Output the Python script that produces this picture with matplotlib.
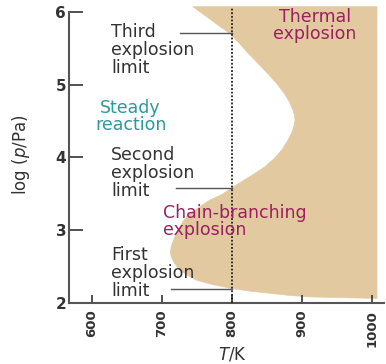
import matplotlib
matplotlib.use("Agg")
import matplotlib.pyplot as plt
from matplotlib.patches import Polygon

# Boundary of the explosion region (T/K, log p/Pa), read top to bottom
boundary_T = [744, 757, 771, 784, 797, 810, 823, 837, 851, 864, 875, 882, 887, 889, 890,
              888, 885, 879, 871, 860, 847, 833, 818, 808, 799, 784, 768, 754, 740, 730,
              723, 717, 713, 712, 713, 718, 725, 736, 749, 772, 797, 825, 854, 882, 911,
              955, 1005]
boundary_p = [6.07, 5.98, 5.88, 5.79, 5.70, 5.57, 5.43, 5.29, 5.15, 5.01, 4.87, 4.76, 4.65, 4.58, 4.51,
              4.42, 4.33, 4.22, 4.10, 3.98, 3.87, 3.78, 3.69, 3.63, 3.57, 3.48, 3.41, 3.32, 3.23, 3.12,
              3.00, 2.88, 2.77, 2.70, 2.63, 2.54, 2.45, 2.38, 2.31, 2.25, 2.20, 2.16, 2.13, 2.10, 2.08,
              2.07, 2.06]
T_max_region = 1007
p_top = 6.07

T_ref = 800
limit_labels = ["Third\nexplosion\nlimit", "Second\nexplosion\nlimit", "First\nexplosion\nlimit"]
limit_p = [5.71, 3.58, 2.19]
limit_T_start = [725, 720, 713]
limit_label_p = [5.48, 3.78, 2.41]

xticks = [600, 700, 800, 900, 1000]
yticks = [2, 3, 4, 5, 6]

tan = "#e3c9a0"
maroon = "#9a2060"
teal = "#2a9a9c"
dark = "#333333"

fig = plt.figure(figsize=(3.86, 3.64), dpi=100)
ax = fig.add_axes([69/386, 61.3/364, 315/386, 296/364])
ax.set_xlim(567, 1017)
ax.set_ylim(2, p_top)

verts = list(zip(boundary_T, boundary_p)) + [(T_max_region, boundary_p[-1]), (T_max_region, p_top)]
ax.add_patch(Polygon(verts, closed=True, facecolor=tan, edgecolor=tan, lw=0.5,
                     joinstyle="round", clip_on=False, zorder=1))

ax.plot([T_ref, T_ref], [2, p_top], color="#222222", lw=1.3, linestyle=(0, (1, 1)), zorder=3, clip_on=False)

for lab, lp, ts, llp in zip(limit_labels, limit_p, limit_T_start, limit_label_p):
    ax.plot([ts, T_ref], [lp, lp], color="#555555", lw=1.0, zorder=2)
    ax.text(627, llp, lab, ha="left", va="center", fontsize=12.5, color=dark, linespacing=1.0, zorder=4)

ax.text(655, 4.56, "Steady\nreaction", ha="center", va="center", fontsize=12.5, color=teal, linespacing=0.95, zorder=4)
ax.text(918, 5.81, "Thermal\nexplosion", ha="center", va="center", fontsize=12.5, color=maroon, linespacing=0.95, zorder=4)
ax.text(701, 3.12, "Chain-branching\nexplosion", ha="left", va="center", fontsize=12.5, color=maroon, linespacing=0.95, zorder=4)

for s in ["top", "right"]:
    ax.spines[s].set_visible(False)
for s in ["left", "bottom"]:
    ax.spines[s].set_color("#555555")
    ax.spines[s].set_linewidth(1.5)
ax.spines["left"].set_bounds(2, 6)

ax.set_xticks(xticks)
ax.set_yticks(yticks)
ax.set_xticklabels([str(v) for v in xticks], rotation=90, fontsize=9.5, color=dark, fontweight="bold")
ax.set_yticklabels([str(v) for v in yticks], fontsize=11, color=dark, fontweight="bold")
ax.tick_params(axis="x", direction="in", length=6, width=1.2, color="#333333", pad=5)
ax.tick_params(axis="y", direction="in", length=10, width=1.2, color="#333333", pad=2)

ax.set_xlabel(r"$T$/K", fontsize=12, color=dark)
ax.xaxis.set_label_coords((800 - 567) / (1017 - 567), -0.145)
ax.set_ylabel(r"log ($p$/Pa)", fontsize=12, color=dark)
ax.yaxis.set_label_coords(-0.117, 0.5)

fig.savefig("out.png", dpi=100)
